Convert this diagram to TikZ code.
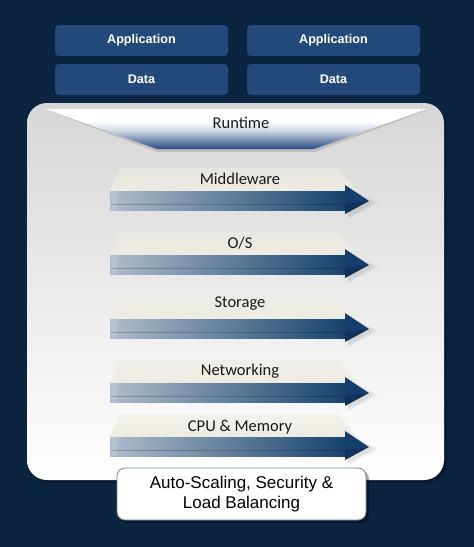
\documentclass[tikz,border=0pt]{standalone}
\usepackage{fontspec}
\setmainfont{Carlito}
\newfontfamily\arialfont{Liberation Sans}
\usetikzlibrary{fadings}
\definecolor{navy}{HTML}{0B2541}
\definecolor{boxblue}{HTML}{23487A}
\definecolor{panelgray}{HTML}{D6D6D6}
\definecolor{rtblue}{HTML}{2A4C85}
\definecolor{beige}{HTML}{EEECE1}
\definecolor{barlight}{HTML}{AEBCCA}
\definecolor{barmid}{HTML}{587796}
\definecolor{bardark}{HTML}{17426E}
\definecolor{headblue}{HTML}{143F6C}
\definecolor{borderblue}{HTML}{6E8299}
\pgfdeclareverticalshading{rtshade}{100bp}{color(0bp)=(rtblue); color(25bp)=(rtblue);
  color(36bp)=(rtblue!65!white); color(48bp)=(rtblue!22!white); color(60bp)=(white); color(100bp)=(white)}
\tikzfading[name=planefade, top color=transparent!50, bottom color=transparent!0]
\tikzset{
  topbox/.style={draw=none, fill=boxblue, rounded corners=4pt, minimum width=173pt, minimum height=31pt,
    text=white, font=\arialfont\bfseries\fontsize{12.6}{14}\selectfont, inner sep=0pt},
  lbl/.style={anchor=base, text=black!90, font=\fontsize{16.5}{19}\selectfont, inner sep=0pt},
  bottombox/.style={draw=borderblue, line width=0.8pt, fill=white, rounded corners=8pt,
    minimum width=249pt, minimum height=52pt, align=center, inner sep=0pt,
    font=\arialfont\fontsize{17}{20}\selectfont}
}
\newcommand\layerarrow[4]{%
  % shadow of arrow head
  \fill[black, opacity=.05] (348,#2-4) -- (378,#2+12) -- (348,#2+28) -- cycle;
  \fill[black, opacity=.06] (348,#2-2) -- (374,#2+12) -- (348,#2+26) -- cycle;
  % plane
  \fill[beige, path fading=planefade] (110,#2) -- (120,#2-23) -- (338,#2-23) -- (357,#2) -- cycle;
  % bar
  \shade[left color=barlight, middle color=barmid, right color=bardark] (110,#2) rectangle (346,#2+19);
  \fill[white, opacity=.12] (111,#2) rectangle (117,#2+19);
  \draw[black, opacity=.2, line width=.8pt] (111,#2+13) -- (346,#2+13);
  % head
  \fill[headblue] (345,#2-6) -- (369,#2+10) -- (345,#2+23) -- cycle;
  \fill[black, opacity=.18] (345,#2+13) -- (369,#2+10) -- (345,#2+23) -- cycle;
  \node[lbl] (#1) at (240,#3) {#4};
}
\begin{document}
\begin{tikzpicture}[x=1pt,y=-1pt]
\useasboundingbox (0,0) rectangle (474,547);
\fill[navy] (0,0) rectangle (474,547);
% top boxes
\node[topbox] (app1) at (141.5,40.5) {Application};
\node[topbox] (app2) at (333.5,40.5) {Application};
\node[topbox] (data1) at (141.5,79.5) {Data};
\node[topbox] (data2) at (333.5,79.5) {Data};
% panel
\fill[black, opacity=.25, rounded corners=20pt] (29,106) rectangle (447,483);
\shade[top color=panelgray, middle color=panelgray!45!white, bottom color=white, rounded corners=20pt]
  (27,103) rectangle (444,480);
% runtime trapezoid
\fill[black, opacity=.12] (47,110) -- (427,110) -- (315,152) -- (157,152) -- cycle;
\shade[shading=rtshade]
  (45,109) -- (427,109) -- (314,149) -- (157,149) -- cycle;
\node[lbl] (runtime) at (241,128.5) {Runtime};
% layers
\layerarrow{middleware}{191}{184}{Middleware}
\layerarrow{os}{255}{248}{O/S}
\layerarrow{storage}{319}{307}{Storage}
\layerarrow{networking}{383}{375}{Networking}
\layerarrow{cpu}{437}{431}{CPU \& Memory}
% bottom box
\fill[black, opacity=.35, rounded corners=8pt] (120,471) rectangle (369,523);
\node[bottombox] (asb) at (241.5,494) {Auto-Scaling, Security \&\\Load Balancing};
\end{tikzpicture}
\end{document}
